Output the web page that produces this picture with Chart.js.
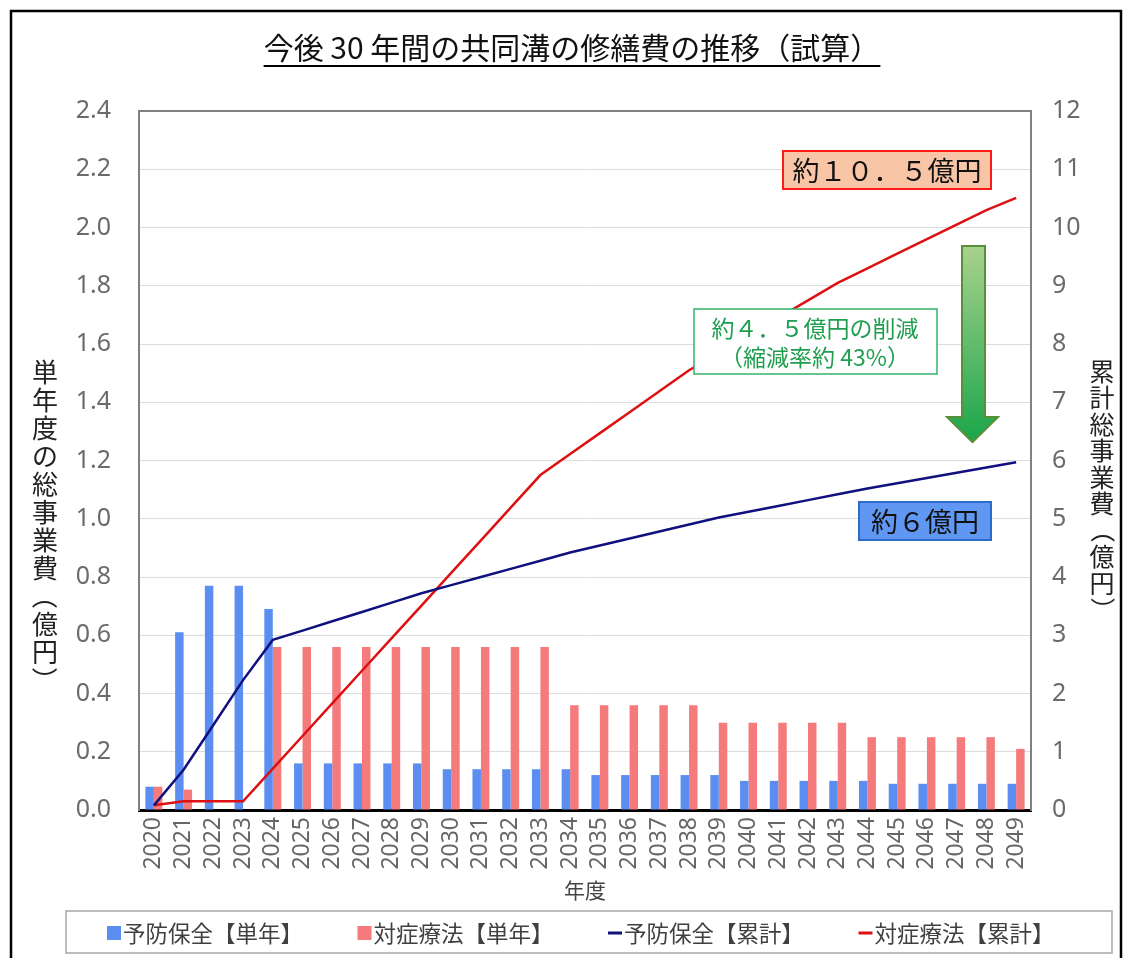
<!DOCTYPE html>
<html lang="ja">
<head>
<meta charset="utf-8">
<title>今後30年間の共同溝の修繕費の推移（試算）</title>
<script src="https://cdn.jsdelivr.net/npm/chart.js@4.4.1/dist/chart.umd.min.js"></script>
<style>
  html, body { margin: 0; padding: 0; background: #fff; }
  canvas { display: block; }
</style>
</head>
<body>
<canvas id="chart" width="1127" height="958"></canvas>
<script>
// 年度
const years = ['2020','2021','2022','2023','2024','2025','2026','2027','2028','2029',
               '2030','2031','2032','2033','2034','2035','2036','2037','2038','2039',
               '2040','2041','2042','2043','2044','2045','2046','2047','2048','2049'];

// 単年度の事業費（億円）- 左軸
const yoboTannen = [0.08, 0.61, 0.77, 0.77, 0.69, 0.16, 0.16, 0.16, 0.16, 0.16,
                    0.14, 0.14, 0.14, 0.14, 0.14, 0.12, 0.12, 0.12, 0.12, 0.12,
                    0.10, 0.10, 0.10, 0.10, 0.10, 0.09, 0.09, 0.09, 0.09, 0.09];
const taishoTannen = [0.08, 0.07, 0, 0, 0.56, 0.56, 0.56, 0.56, 0.56, 0.56,
                      0.56, 0.56, 0.56, 0.56, 0.36, 0.36, 0.36, 0.36, 0.36, 0.30,
                      0.30, 0.30, 0.30, 0.30, 0.25, 0.25, 0.25, 0.25, 0.25, 0.21];

// 累計総事業費（億円）- 右軸
const yoboRuikei = [0.08, 0.69, 1.46, 2.23, 2.92, 3.08, 3.24, 3.40, 3.56, 3.72,
                    3.86, 4.00, 4.14, 4.28, 4.42, 4.54, 4.66, 4.78, 4.90, 5.02,
                    5.12, 5.22, 5.32, 5.42, 5.52, 5.61, 5.70, 5.79, 5.88, 5.97];
const taishoRuikei = [0.08, 0.15, 0.15, 0.15, 0.71, 1.27, 1.83, 2.39, 2.95, 3.51,
                      4.07, 4.63, 5.19, 5.75, 6.11, 6.47, 6.83, 7.19, 7.55, 7.85,
                      8.15, 8.45, 8.75, 9.05, 9.30, 9.55, 9.80, 10.05, 10.30, 10.51];

const JP = "'Noto Sans CJK JP', 'Noto Sans', sans-serif";
const NUM = "'Noto Sans', sans-serif";

// 縦書きの文字列（括弧は回転）
function drawVertical(ctx, text, x, yStart, pitch) {
    [...text].forEach((ch, i) => {
        ctx.save();
        ctx.translate(x, yStart + pitch * i + pitch / 2);
        if (ch === '（' || ch === '）') ctx.rotate(Math.PI / 2);
        ctx.fillText(ch, 0, 0);
        ctx.restore();
    });
}

function labelBox(ctx, x, y, w, h, fill, stroke, lw) {
    ctx.fillStyle = fill;
    ctx.fillRect(x, y, w, h);
    ctx.strokeStyle = stroke;
    ctx.lineWidth = lw;
    ctx.strokeRect(x, y, w, h);
}

const decor = {
    id: 'decor',
    beforeDraw(chart) {
        const { ctx } = chart;
        ctx.save();
        ctx.fillStyle = '#fff';
        ctx.fillRect(0, 0, chart.width, chart.height);

        // 外枠
        ctx.strokeStyle = '#000';
        ctx.lineWidth = 2.5;
        ctx.strokeRect(11, 11, 1110, 990);

        // タイトル（下線付き）
        const title = '今後 30 年間の共同溝の修繕費の推移（試算）';
        ctx.font = '30px ' + JP;
        ctx.fillStyle = '#111';
        ctx.textAlign = 'center';
        ctx.textBaseline = 'middle';
        ctx.fillText(title, 572, 48);
        const w = ctx.measureText(title).width;
        ctx.beginPath();
        ctx.lineWidth = 2;
        ctx.moveTo(572 - w / 2, 66);
        ctx.lineTo(572 + w / 2, 66);
        ctx.stroke();

        // 軸タイトル（縦書き）
        ctx.fillStyle = '#222';
        ctx.font = '26px ' + JP;
        drawVertical(ctx, '単年度の総事業費（億円）', 45, 358, 28);
        ctx.font = '25px ' + JP;
        drawVertical(ctx, '累計総事業費（億円）', 1102, 358, 26.5);
        ctx.restore();
    },
    beforeDatasetsDraw(chart) {
        const { ctx, chartArea: a } = chart;
        ctx.save();
        ctx.strokeStyle = '#808080';
        ctx.lineWidth = 2;
        ctx.beginPath();
        ctx.moveTo(a.left, a.top);
        ctx.lineTo(a.right, a.top);
        ctx.stroke();
        ctx.restore();
    },
    afterDraw(chart) {
        const { ctx } = chart;
        ctx.save();
        ctx.textAlign = 'center';
        ctx.textBaseline = 'middle';

        // 約10.5億円
        labelBox(ctx, 783, 151, 208, 38, '#f8c5a6', '#ff1a1a', 2);
        ctx.fillStyle = '#111';
        ctx.font = '27px ' + JP;
        ctx.fillText('約１０．５億円', 887, 171);

        // 約6億円
        labelBox(ctx, 859, 502, 132, 38, '#5f97f2', '#2a6cc8', 2);
        ctx.fillStyle = '#111';
        ctx.fillText('約６億円', 925, 522);

        // 削減額
        labelBox(ctx, 694, 309, 243, 65, '#fff', '#33b36b', 1.5);
        ctx.fillStyle = '#1e9e4e';
        ctx.font = '23px ' + JP;
        ctx.fillText('約４．５億円の削減', 815, 328);
        ctx.fillText('（縮減率約 43%）', 815, 357);

        // 矢印
        const g = ctx.createLinearGradient(0, 246, 0, 442);
        g.addColorStop(0, '#a9d18e');
        g.addColorStop(1, '#1aa64a');
        ctx.beginPath();
        ctx.moveTo(962, 246);
        ctx.lineTo(985, 246);
        ctx.lineTo(985, 417);
        ctx.lineTo(998, 417);
        ctx.lineTo(972.5, 442);
        ctx.lineTo(947, 417);
        ctx.lineTo(962, 417);
        ctx.closePath();
        ctx.fillStyle = g;
        ctx.fill();
        ctx.strokeStyle = '#5a8f3a';
        ctx.lineWidth = 2;
        ctx.stroke();

        // 凡例
        ctx.strokeStyle = '#a8a8a8';
        ctx.lineWidth = 1.5;
        ctx.strokeRect(66, 911, 1046, 42);
        ctx.font = '22.5px ' + JP;
        ctx.textAlign = 'left';
        chart.data.datasets.forEach((ds, i) => {
            const x = 107 + i * 250.5;
            const y = 933;
            if (ds.type === 'line') {
                ctx.strokeStyle = ds.borderColor;
                ctx.lineWidth = 3;
                ctx.beginPath();
                ctx.moveTo(x, y);
                ctx.lineTo(x + 14, y);
                ctx.stroke();
            } else {
                ctx.fillStyle = ds.backgroundColor;
                ctx.fillRect(x, y - 7, 14, 14);
            }
            ctx.fillStyle = '#404040';
            ctx.fillText(ds.label, x + 16, y);
        });
        ctx.restore();
    }
};

new Chart(document.getElementById('chart'), {
    data: {
        labels: years,
        datasets: [
            {
                type: 'bar',
                label: '予防保全【単年】',
                data: yoboTannen,
                backgroundColor: '#5b8ef0',
                yAxisID: 'y',
                order: 1
            },
            {
                type: 'bar',
                label: '対症療法【単年】',
                data: taishoTannen,
                backgroundColor: '#f47a7c',
                yAxisID: 'y',
                order: 1
            },
            {
                type: 'line',
                label: '予防保全【累計】',
                data: yoboRuikei,
                borderColor: '#10107f',
                borderWidth: 2.5,
                pointRadius: 0,
                yAxisID: 'y2',
                order: 0
            },
            {
                type: 'line',
                label: '対症療法【累計】',
                data: taishoRuikei,
                borderColor: '#dd1111',
                borderWidth: 2.5,
                pointRadius: 0,
                yAxisID: 'y2',
                order: 0
            }
        ]
    },
    options: {
        responsive: false,
        animation: false,
        datasets: {
            bar: { categoryPercentage: 0.57, barPercentage: 1.0 }
        },
        layout: { padding: { top: 111, bottom: 55, left: 0, right: 0 } },
        plugins: {
            legend: { display: false },
            tooltip: { enabled: false },
            title: { display: false }
        },
        scales: {
            x: {
                grid: { display: false, drawTicks: false },
                border: { color: '#000', width: 3 },
                ticks: {
                    autoSkip: false,
                    minRotation: 90,
                    maxRotation: 90,
                    padding: 7,
                    color: '#666',
                    font: { family: NUM, size: 23 }
                },
                title: {
                    display: true,
                    text: '年度',
                    color: '#444',
                    padding: 0,
                    font: { family: JP, size: 21 }
                },
                afterFit(scale) { scale.height = 93; }
            },
            y: {
                position: 'left',
                min: 0,
                max: 2.4,
                grid: { color: '#dcdcdc', drawTicks: false },
                border: { color: '#808080', width: 2 },
                ticks: {
                    stepSize: 0.2,
                    padding: 28,
                    color: '#6b6b6b',
                    font: { family: NUM, size: 25 },
                    callback: v => v.toFixed(1)
                },
                afterFit(scale) { scale.width = 139; }
            },
            y2: {
                position: 'right',
                min: 0,
                max: 12,
                grid: { display: false, drawTicks: false },
                border: { color: '#808080', width: 2 },
                ticks: {
                    stepSize: 1,
                    padding: 21,
                    color: '#6b6b6b',
                    font: { family: NUM, size: 25 }
                },
                afterFit(scale) { scale.width = 96; }
            }
        }
    },
    plugins: [decor]
});
</script>
</body>
</html>
